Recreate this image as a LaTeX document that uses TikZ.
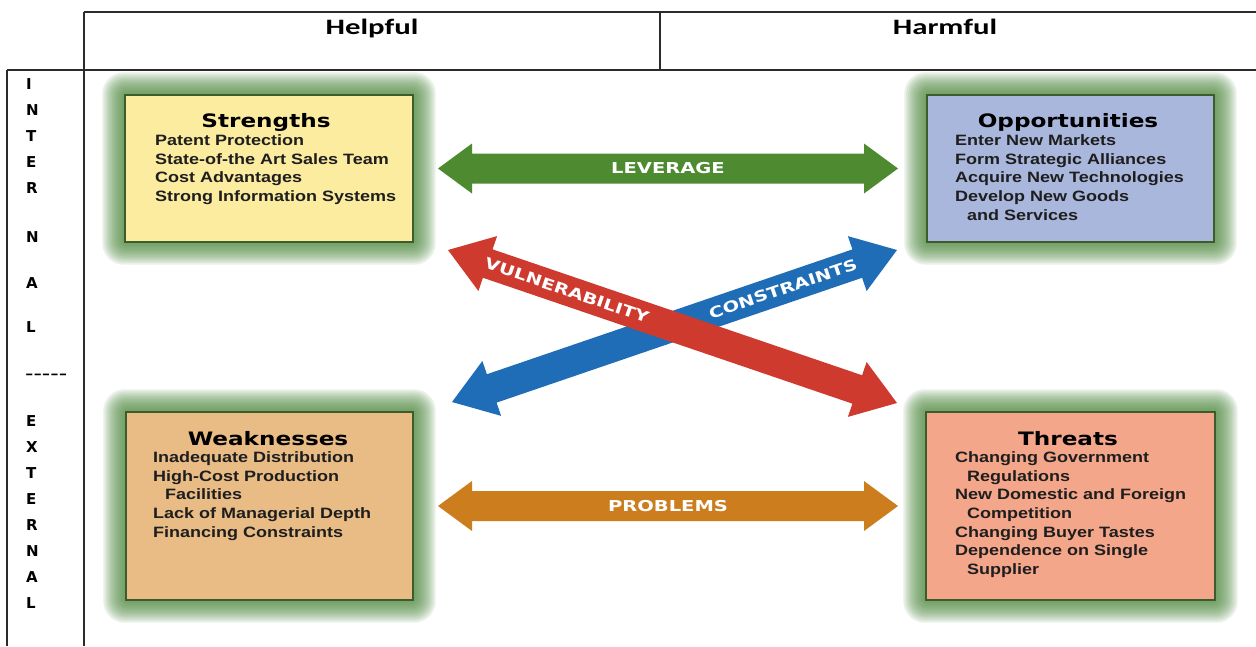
\documentclass[tikz,border=0pt]{standalone}
\usepackage{fontspec}
\setmainfont{Liberation Sans}
\newfontfamily\itemfont[FakeStretch=1.2]{Liberation Sans}
\newfontfamily\titlefont[FakeStretch=1.25]{DejaVu Sans}
\newfontfamily\arrowfont[FakeStretch=1.3]{DejaVu Sans}
\newfontfamily\headfont[FakeStretch=1.4]{Carlito}
\newfontfamily\sidefont{DejaVu Sans}
\usetikzlibrary{calc,backgrounds}

\definecolor{gridline}{HTML}{2B2B2B}
\definecolor{glowgreen}{HTML}{4E8A3E}
\definecolor{boxborder}{HTML}{3E5B2E}
\definecolor{sfill}{HTML}{FCEC9F}
\definecolor{ofill}{HTML}{A9B7DC}
\definecolor{wfill}{HTML}{E9BC85}
\definecolor{tfill}{HTML}{F4A68A}
\definecolor{levgreen}{HTML}{4E8B30}
\definecolor{proborange}{HTML}{CC7E1F}
\definecolor{vulred}{HTML}{CF3A2F}
\definecolor{conblue}{HTML}{1F6DB6}
\definecolor{txt}{HTML}{1E1E1E}

\newcommand\dblarrow[6]{%
  \coordinate (da-ha) at ($(#1)!#3!(#2)$);
  \coordinate (da-hb) at ($(#2)!#3!(#1)$);
  \fill[#6] (#1) -- ($(da-ha)!#4!90:(#2)$) -- ($(da-ha)!#5!90:(#2)$)
    -- ($(da-hb)!#5!-90:(#1)$) -- ($(da-hb)!#4!-90:(#1)$) -- (#2)
    -- ($(da-hb)!#4!90:(#1)$) -- ($(da-hb)!#5!90:(#1)$)
    -- ($(da-ha)!#5!-90:(#2)$) -- ($(da-ha)!#4!-90:(#2)$) -- cycle;
}

\begin{document}
\begin{tikzpicture}[x=1pt,y=-1pt,
  gridl/.style={draw=gridline, line width=1.3pt},
  box/.style={draw=boxborder, line width=1.4pt, inner sep=0pt},
  boxtitle/.style={font=\titlefont\bfseries\fontsize{18.5}{22}\selectfont, text=black, inner sep=0pt, anchor=base},
  item/.style={font=\itemfont\bfseries\fontsize{15}{18.7}\selectfont, text=txt, inner sep=0pt, anchor=base west},
  head/.style={font=\headfont\bfseries\fontsize{22}{26}\selectfont, text=black, inner sep=0pt, anchor=base},
  side/.style={font=\sidefont\bfseries\fontsize{15}{16}\selectfont, text=black, inner sep=0pt, anchor=base west},
  dashes/.style={font=\itemfont\fontsize{21}{24}\selectfont, text=black, inner sep=0pt, anchor=west},
  arrowlabel/.style={font=\arrowfont\bfseries\fontsize{15}{18}\selectfont, text=white, inner sep=0pt},
  glow/.style={fill=glowgreen, opacity=0.12}
]
\useasboundingbox (0,0) rectangle (1256,646);

% table frame
\draw[gridl] (84,12) -- (1256,12);
\draw[gridl] (7,70) -- (1256,70);
\draw[gridl] (84,12) -- (84,646);
\draw[gridl] (660,12) -- (660,70);
\draw[gridl] (7,70) -- (7,646);

\node[head] (helpful) at (372,34) {Helpful};
\node[head] (harmful) at (945,34) {Harmful};

% side letters
\foreach \l/\yy [count=\k] in {I/84, N/110, T/136, E/162, R/188, N/237, A/283, L/327,
  E/421, X/447, T/473, E/499, R/525, N/551, A/577, L/603}
  \node[side] (side-\k) at (26,{\yy+5.5}) {\l};
\node[dashes] (sep) at (25,377) {-----};

% boxes
\node[box, fill=sfill, minimum width=288pt, minimum height=147pt] (S) at (269,168.5) {};
\node[box, fill=ofill, minimum width=287pt, minimum height=147pt] (O) at (1070.5,168.5) {};
\node[box, fill=wfill, minimum width=287pt, minimum height=188pt] (W) at (269.5,506) {};
\node[box, fill=tfill, minimum width=289pt, minimum height=188pt] (T) at (1070.5,506) {};

\begin{scope}[on background layer]
\fill[white] (0,0) rectangle (1256,646);
\foreach \b in {S,O,W,T}{
  \foreach \i in {1,...,11}{
    \fill[glow, rounded corners={(4+1.6*\i)*1pt}] ($(\b.south west)+(-2*\i,2*\i)$) rectangle ($(\b.north east)+(2*\i,-2*\i)$);
  }
}
\end{scope}

% titles
\node[boxtitle] (S-title) at (266,127) {Strengths};
\node[boxtitle] (O-title) at (1068,127) {Opportunities};
\node[boxtitle] (W-title) at (268,445) {Weaknesses};
\node[boxtitle] (T-title) at (1068,445) {Threats};

% items
\foreach \t [count=\k] in {Patent Protection, State-of-the Art Sales Team, Cost Advantages, Strong Information Systems}
  \node[item] (S-\k) at (155,{145.4+18.7*(\k-1)}) {\t};
\foreach \t [count=\k] in {Enter New Markets, Form Strategic Alliances, Acquire New Technologies, Develop New Goods, \hspace*{12pt}and Services}
  \node[item] (O-\k) at (955,{145.4+18.7*(\k-1)}) {\t};
\foreach \t [count=\k] in {Inadequate Distribution, High-Cost Production, \hspace*{12pt}Facilities, Lack of Managerial Depth, Financing Constraints}
  \node[item] (W-\k) at (153,{462.4+18.7*(\k-1)}) {\t};
\foreach \t [count=\k] in {Changing Government, \hspace*{12pt}Regulations, New Domestic and Foreign, \hspace*{12pt}Competition, Changing Buyer Tastes, Dependence on Single, \hspace*{12pt}Supplier}
  \node[item] (T-\k) at (955,{462.4+18.7*(\k-1)}) {\t};

% arrow end points
\coordinate (lev-l) at (438,168.5);
\coordinate (lev-r) at (898,168.5);
\coordinate (prob-l) at (438,506);
\coordinate (prob-r) at (898,506);
\coordinate (con-l) at (452,402);
\coordinate (con-r) at (897,250);
\coordinate (vul-l) at (448,250);
\coordinate (vul-r) at (897,403);

\dblarrow{lev-l}{lev-r}{34pt}{25pt}{15pt}{levgreen}
\node[arrowlabel] (lev-text) at ($(lev-l)!0.5!(lev-r)$) {LEVERAGE};

\dblarrow{prob-l}{prob-r}{34pt}{25pt}{15pt}{proborange}
\node[arrowlabel] (prob-text) at ($(prob-l)!0.5!(prob-r)$) {PROBLEMS};

\dblarrow{con-l}{con-r}{42pt}{29pt}{15pt}{conblue}
\path (con-l) -- (con-r) node[arrowlabel, sloped, pos=0.744] (con-text) {CONSTRAINTS};

\dblarrow{vul-l}{vul-r}{42pt}{29pt}{15pt}{vulred}
\path (vul-l) -- (vul-r) node[arrowlabel, sloped, pos=0.265] (vul-text) {VULNERABILITY};
\end{tikzpicture}
\end{document}
